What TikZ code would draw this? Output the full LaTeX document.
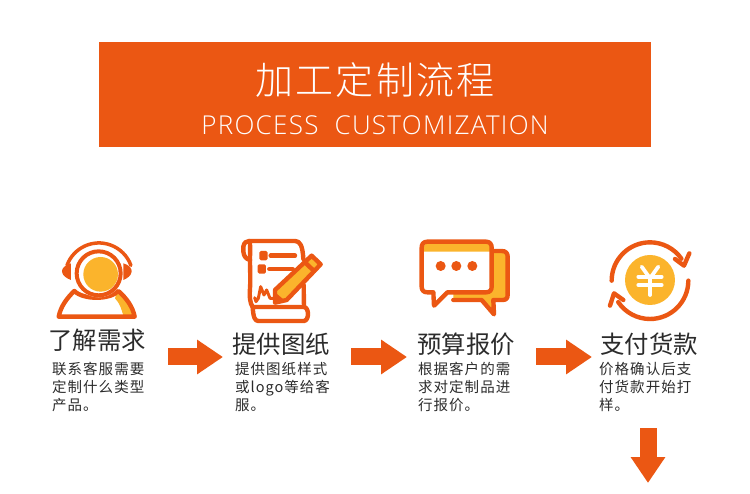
\documentclass[tikz,border=0pt]{standalone}
\usepackage{fontspec}
\usepackage{xcolor}
\usepackage{tikz}
\usetikzlibrary{positioning, arrows.meta}
\newfontfamily\titlefont[LetterSpace=6]{Noto Sans CJK SC Light}
\newfontfamily\subfont[LetterSpace=5]{Open Sans Light}
\newfontfamily\headfont{Noto Sans CJK SC}
\newfontfamily\bodyfont[LetterSpace=7]{Noto Sans CJK SC}
\definecolor{brandorange}{HTML}{EB5713}
\definecolor{brandyellow}{HTML}{FBB42C}
\definecolor{inkgray}{HTML}{2B2B2B}
\tikzset{
    heading/.style={anchor=west, inner sep=0pt, text=inkgray, font=\headfont\fontsize{24.4}{28}\selectfont},
    bodytext/.style={anchor=north west, inner sep=0pt, align=left, text=inkgray, font=\bodyfont\fontsize{14.5}{17.8}\selectfont},
    blockarrow/.style={draw=brandorange, line width=17pt, -{Triangle[length=26pt, width=33pt]}},
    iconline/.style={draw=brandorange, line width=4.4pt, line cap=round, line join=round},
}

\begin{document}
\begin{tikzpicture}[x=1pt, y=-1pt]
    \useasboundingbox (0, 0) rectangle (750, 494);

    \node[fill=brandorange, minimum width=552pt, minimum height=105pt, inner sep=0pt] (banner) at (375, 94.5) {};
    \node[text=white, inner sep=0pt, font=\titlefont\fontsize{38}{40}\selectfont] (title) at (375, 80) {加工定制流程};
    \node[text=white, inner sep=0pt, font=\subfont\fontsize{26}{30}\selectfont] (subtitle) at (375, 125) {PROCESS\ \ CUSTOMIZATION};

    % person with headset
    \begin{scope}[shift={(40, 235)}, scale=0.3333]
        \path[fill=brandyellow] (225, 190) .. controls (240, 205) and (245, 225) .. (250, 242) -- (282, 245) .. controls (275, 215) and (255, 190) .. (232, 170) -- cycle;
        \draw[iconline] (56, 245) .. controls (62, 215) and (80, 190) .. (103, 168) .. controls (130, 195) and (210, 195) .. (235, 168) .. controls (260, 190) and (278, 215) .. (284, 245) -- cycle;
        \fill[white] (176, 115) circle (72);
        \fill[brandyellow] (182, 118) circle (52);
        \draw[iconline, line width=4pt] (176, 115) circle (66);
        \draw[iconline, line width=3.5pt] (81, 91) arc[start angle=200, end angle=340, radius=102];
        \fill[brandorange] (93, 85) .. controls (75, 90) and (65, 100) .. (66, 110) .. controls (67, 122) and (80, 130) .. (93, 135) -- cycle;
        \fill[brandorange] (250, 85) .. controls (268, 90) and (276, 100) .. (275, 110) .. controls (274, 122) and (262, 130) .. (250, 135) -- cycle;
    \end{scope}

    % scroll with pencil
    \begin{scope}[shift={(230, 235)}, scale=0.3333]
        \draw[iconline] (60, 75) .. controls (48, 72) and (42, 65) .. (40, 50) -- (40, 35) .. controls (42, 22) and (50, 18) .. (58, 18) -- (195, 18) .. controls (210, 18) and (218, 32) .. (220, 72);
        \draw[iconline] (58, 18) .. controls (62, 25) and (60, 50) .. (60, 75) .. controls (60, 110) and (62, 130) .. (60, 160) .. controls (58, 185) and (60, 205) .. (68, 216);
        \draw[iconline] (221, 150) -- (222, 216);
        \draw[iconline] (68, 216) -- (222, 216) .. controls (238, 218) and (238, 256) .. (222, 258) -- (85, 258) .. controls (75, 258) and (70, 248) .. (68, 216);
        \fill[brandorange, rounded corners=1.5pt] (88, 48) rectangle (113, 76);
        \fill[brandorange, rounded corners=1.5pt] (83, 88) rectangle (108, 116);
        \draw[iconline] (122, 62) -- (195, 62);
        \draw[iconline] (118, 102) -- (188, 102);
        \draw[iconline, line width=3pt] (74, 188) -- (78, 200) -- (85, 190) -- (92, 155) -- (102, 180) -- (110, 165) -- (120, 190) -- (130, 190);
        \draw[iconline, fill=brandyellow] (245, 62) -- (272, 88) -- (170, 195) -- (135, 203) -- (135, 165) -- cycle;
        \draw[iconline] (225, 82) -- (252, 108);
        \fill[brandorange] (135, 203) -- (135, 172) -- (165, 197) -- cycle;
    \end{scope}

    % speech bubbles
    \begin{scope}[shift={(410, 235)}, scale=0.3333]
        \path[fill=brandyellow] (245, 48) -- (280, 48) -- (293, 65) -- (293, 190) -- (250, 195) -- (252, 240) -- (215, 195) -- (130, 195) -- (130, 170) -- (245, 170) -- cycle;
        \draw[iconline] (250, 48) -- (275, 48) .. controls (288, 48) and (293, 55) .. (293, 65) -- (293, 180) .. controls (293, 190) and (288, 195) .. (278, 195) -- (250, 195) -- (252, 238) -- (215, 195) -- (130, 195);
        \fill[white] (52, 20) -- (228, 20) .. controls (240, 20) and (245, 28) .. (245, 38) -- (245, 155) .. controls (245, 165) and (240, 172) .. (228, 172) -- (112, 172) -- (72, 212) -- (70, 172) -- (52, 172) .. controls (40, 172) and (35, 165) .. (35, 155) -- (35, 38) .. controls (35, 28) and (40, 20) .. (52, 20) -- cycle;
        \fill[brandyellow] (47, 26) -- (233, 26) -- (240, 36) -- (240, 50) -- (40, 50) -- (40, 36) -- cycle;
        \draw[iconline] (52, 20) -- (228, 20) .. controls (240, 20) and (245, 28) .. (245, 38) -- (245, 155) .. controls (245, 165) and (240, 172) .. (228, 172) -- (112, 172) -- (72, 212) -- (70, 172) -- (52, 172) .. controls (40, 172) and (35, 165) .. (35, 155) -- (35, 38) .. controls (35, 28) and (40, 20) .. (52, 20) -- cycle;
        \fill[brandorange] (92, 93) circle (15);
        \fill[brandorange] (139, 93) circle (15);
        \fill[brandorange] (187, 93) circle (15);
    \end{scope}

    % coin with turning arrows
    \begin{scope}[shift={(600, 235)}, scale=0.3333]
        \fill[brandyellow] (150, 135) circle (75);
        \draw[white, line width=3.8pt, line cap=round, line join=round] (125, 95) -- (150, 130) -- (175, 95);
        \draw[white, line width=3.8pt, line cap=round] (115, 125) -- (185, 125);
        \draw[white, line width=3.8pt, line cap=round] (115, 150) -- (185, 150);
        \draw[white, line width=3.8pt, line cap=round] (150, 128) -- (150, 180);
        \draw[iconline] (35, 137) arc[start angle=180, end angle=325, radius=115];
        \draw[iconline] (268, 55) -- (252, 92) -- (225, 72);
        \draw[iconline] (265, 137) arc[start angle=0, end angle=146, radius=115];
        \draw[iconline] (30, 212) -- (42, 175) -- (70, 195);
    \end{scope}

    \node[heading] (need) at (48, 340) {了解需求};
    \node[heading] (drawing) at (232, 344) {提供图纸};
    \node[heading] (budget) at (417, 344) {预算报价};
    \node[heading] (payment) at (600, 344) {支付货款};

    \node[bodytext] (needtext) at (52, 362) {联系客服需要\\定制什么类型\\产品。};
    \node[bodytext] (drawingtext) at (235, 362) {提供图纸样式\\或logo等给客\\服。};
    \node[bodytext] (budgettext) at (418, 362) {根据客户的需\\求对定制品进\\行报价。};
    \node[bodytext] (paymenttext) at (599, 362) {价格确认后支\\付货款开始打\\样。};

    \coordinate (flow1a) at (168, 357);
    \coordinate (flow1b) at (223, 357);
    \coordinate (flow2a) at (351, 357);
    \coordinate (flow2b) at (407, 357);
    \coordinate (flow3a) at (536, 357);
    \coordinate (flow3b) at (592, 357);
    \coordinate (flow4a) at (648, 428);
    \coordinate (flow4b) at (648, 483);

    \draw[blockarrow] (flow1a) -- (flow1b);
    \draw[blockarrow] (flow2a) -- (flow2b);
    \draw[blockarrow] (flow3a) -- (flow3b);
    \draw[blockarrow] (flow4a) -- (flow4b);
\end{tikzpicture}
\end{document}
